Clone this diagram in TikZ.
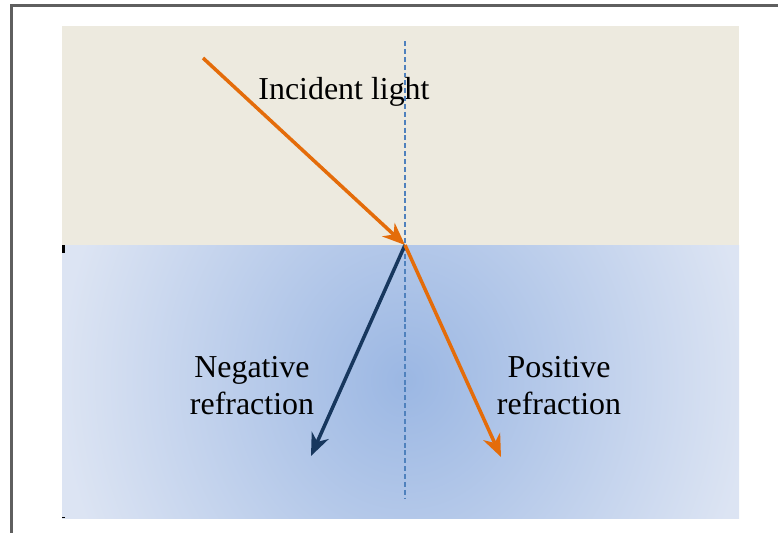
\documentclass[tikz,border=0pt]{standalone}
\usepackage{fontspec}
\setmainfont{Liberation Serif}
\usetikzlibrary{arrows.meta}

\definecolor{framegray}{HTML}{5F5F5F}
\definecolor{sandbg}{HTML}{EDEADF}
\definecolor{deepblue}{HTML}{9BB7E3}
\definecolor{paleblue}{HTML}{DCE4F3}
\definecolor{normalblue}{HTML}{4F81BD}
\definecolor{rayorange}{HTML}{E46C0A}
\definecolor{raynavy}{HTML}{17375E}

\begin{document}
\begin{tikzpicture}[
    x=0.025cm, y=-0.025cm,
    % one px of the sketch is one unit here
    border/.style     = {draw=framegray, line width=2.5pt},
    ray/.style        = {line width=2.5pt, -{Stealth[length=16pt, width=13pt, inset=5pt]}},
    raylabel/.style   = {font=\fontsize{22.7}{26.3}\selectfont, align=center, inner sep=0pt},
    normalline/.style = {draw=normalblue, line width=1.6pt, dash pattern=on 3.5pt off 2.1pt},
  ]
  \useasboundingbox (0,0) rectangle (778,533);

  %% ---------- frame and the two media ----------
  \draw[border] (11.5,533) -- (11.5,5.5) -- (778,5.5);
  \fill[sandbg] (62,26) rectangle (739,245);
  \begin{scope}
    \clip (62,245) rectangle (739,518);
    \shade[inner color=deepblue, outer color=paleblue] (60,5) rectangle (750,755);
  \end{scope}
  \draw[black, line width=2pt] (63.5,245) -- (63.5,253);
  \draw[black, line width=0.7pt] (62,517.5) -- (65,517.5);

  %% ---------- labels ----------
  \node[raylabel, anchor=base] (incident) at (344,99) {Incident light};
  \node[raylabel] (neglabel) at (252,386) {Negative\\refraction};
  \node[raylabel] (poslabel) at (559,386) {Positive\\refraction};

  %% ---------- normal and rays ----------
  \coordinate (top) at (405,41);
  \coordinate (bottom) at (405,498);
  \draw[normalline] (top) -- (bottom);

  \coordinate (src) at (203,58);
  \coordinate (hit) at (405,245);
  \coordinate (neg) at (311,456);
  \coordinate (pos) at (501,457);
  \draw[ray, rayorange] (src) -- (hit);
  \draw[ray, raynavy] (hit) -- (neg);
  \draw[ray, rayorange] (hit) -- (pos);
\end{tikzpicture}
\end{document}
